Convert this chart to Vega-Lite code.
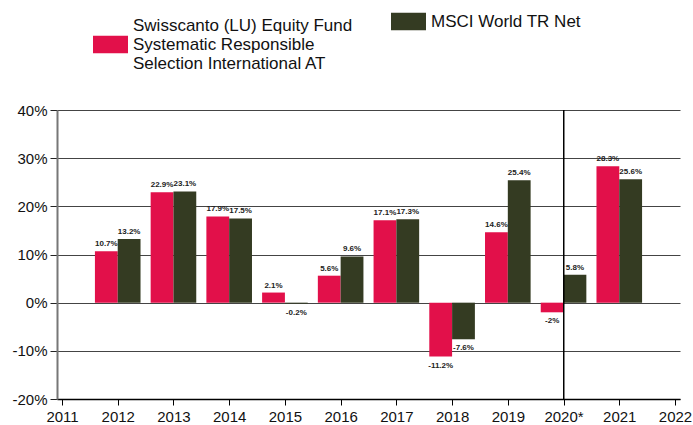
{
  "$schema": "https://vega.github.io/schema/vega-lite/v6.json",
  "width": 623,
  "height": 289,
  "autosize": {"type": "none"},
  "padding": {"left": 57, "top": 110, "right": 13, "bottom": 26},
  "background": "white",
  "config": {
    "view": {"stroke": null},
    "font": "Liberation Sans",
    "style": {"guide-label": {"lineHeight": 19}}
  },
  "data": {
    "values": [
      {"year": 2012, "series": "fund", "value": 0.107},
      {"year": 2012, "series": "msci", "value": 0.132},
      {"year": 2013, "series": "fund", "value": 0.229},
      {"year": 2013, "series": "msci", "value": 0.231},
      {"year": 2014, "series": "fund", "value": 0.179},
      {"year": 2014, "series": "msci", "value": 0.175},
      {"year": 2015, "series": "fund", "value": 0.021},
      {"year": 2015, "series": "msci", "value": -0.002},
      {"year": 2016, "series": "fund", "value": 0.056},
      {"year": 2016, "series": "msci", "value": 0.096},
      {"year": 2017, "series": "fund", "value": 0.171},
      {"year": 2017, "series": "msci", "value": 0.173},
      {"year": 2018, "series": "fund", "value": -0.112},
      {"year": 2018, "series": "msci", "value": -0.076},
      {"year": 2019, "series": "fund", "value": 0.146},
      {"year": 2019, "series": "msci", "value": 0.254},
      {"year": 2020, "series": "fund", "value": -0.02},
      {"year": 2020, "series": "msci", "value": 0.058},
      {"year": 2021, "series": "fund", "value": 0.283},
      {"year": 2021, "series": "msci", "value": 0.256}
    ]
  },
  "transform": [
    {"calculate": "replace(format(datum.value, '.1~%'), '\u2212', '-')", "as": "label"}
  ],
  "encoding": {
    "x": {
      "field": "year", "type": "quantitative",
      "scale": {"domain": [2011, 2022], "nice": false, "zero": false},
      "axis": {
        "title": null,
        "values": [2011, 2012, 2013, 2014, 2015, 2016, 2017, 2018, 2019, 2020, 2021, 2022],
        "format": "d",
        "labelExpr": "datum.value == 2020 ? '2020*' : datum.label",
        "grid": false,
        "domainColor": "#000",
        "domainWidth": 1.5,
        "tickColor": "#000",
        "tickSize": 6,
        "labelFontSize": 15,
        "labelColor": "#111",
        "labelPadding": 4,
        "labelFlush": false
      }
    },
    "y": {
      "field": "value", "type": "quantitative",
      "scale": {"domain": [-0.2, 0.4], "nice": false},
      "axis": {
        "title": null,
        "values": [-0.2, -0.1, 0, 0.1, 0.2, 0.3, 0.4],
        "format": ".0%",
        "labelExpr": "replace(datum.label, '\u2212', '-')",
        "grid": true,
        "gridColor": "#444",
        "gridWidth": 1.2,
        "domainColor": "#777",
        "domainWidth": 2,
        "tickColor": "#222",
        "tickSize": 7,
        "labelFontSize": 15,
        "labelColor": "#111",
        "labelPadding": 3
      }
    }
  },
  "layer": [
    {
      "transform": [{"filter": "datum.series == 'fund'"}],
      "mark": {"type": "bar", "width": 22.8, "xOffset": -11.4},
      "encoding": {
        "fill": {
          "datum": "fund",
          "scale": {"domain": ["fund"], "range": ["#E2104A"]},
          "legend": {
            "title": null,
            "orient": "none",
            "direction": "vertical",
            "legendX": 36,
            "legendY": -102,
            "symbolType": "M-1,0.586H1V1.586H-1Z",
            "symbolSize": 1225,
            "symbolStrokeWidth": 0,
            "symbolOpacity": 1,
            "labelFontSize": 17,
            "labelColor": "#111",
            "labelLimit": 400,
            "labelOffset": 5,
            "labelExpr": "['Swisscanto (LU) Equity Fund', 'Systematic Responsible', 'Selection International AT']"
          }
        }
      }
    },
    {
      "transform": [{"filter": "datum.series == 'msci'"}],
      "mark": {"type": "bar", "width": 22.8, "xOffset": 11.4},
      "encoding": {
        "color": {
          "datum": "msci",
          "scale": {"domain": ["msci"], "range": ["#343B22"]},
          "legend": {
            "title": null,
            "orient": "none",
            "direction": "vertical",
            "legendX": 334,
            "legendY": -106,
            "symbolType": "M-1,-0.5H1V0.5H-1Z",
            "symbolSize": 1225,
            "symbolStrokeWidth": 0,
            "symbolOpacity": 1,
            "labelFontSize": 17,
            "labelColor": "#111",
            "labelLimit": 400,
            "labelOffset": 5,
            "labelExpr": "'MSCI World TR Net'"
          }
        }
      }
    },
    {
      "mark": {"type": "rule", "color": "#000", "strokeWidth": 1},
      "encoding": {"x": {"datum": 2020}, "y": {"datum": 0.4}, "y2": {"datum": -0.2}}
    },
    {
      "transform": [{"filter": "datum.series == 'fund' && datum.value >= 0"}],
      "mark": {"type": "text", "xOffset": -11.4, "dy": -7, "fontSize": 8, "fontWeight": "bold", "color": "#222"},
      "encoding": {"text": {"field": "label", "type": "nominal"}}
    },
    {
      "transform": [{"filter": "datum.series == 'fund' && datum.value < 0"}],
      "mark": {"type": "text", "xOffset": -11.4, "dy": 9, "fontSize": 8, "fontWeight": "bold", "color": "#222"},
      "encoding": {"text": {"field": "label", "type": "nominal"}}
    },
    {
      "transform": [{"filter": "datum.series == 'msci' && datum.value >= 0"}],
      "mark": {"type": "text", "xOffset": 11.4, "dy": -7, "fontSize": 8, "fontWeight": "bold", "color": "#222"},
      "encoding": {"text": {"field": "label", "type": "nominal"}}
    },
    {
      "transform": [{"filter": "datum.series == 'msci' && datum.value < 0"}],
      "mark": {"type": "text", "xOffset": 11.4, "dy": 9, "fontSize": 8, "fontWeight": "bold", "color": "#222"},
      "encoding": {"text": {"field": "label", "type": "nominal"}}
    }
  ]
}
